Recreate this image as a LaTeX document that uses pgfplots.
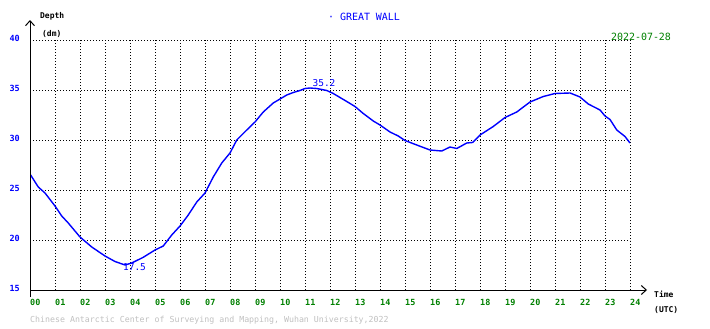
\documentclass[border=0pt]{standalone}
\usepackage{pgfplots}
\pgfplotsset{compat=1.18}
\usepackage{fontspec}
\setmainfont{DejaVu Sans Mono}
\usetikzlibrary{arrows.meta}
\definecolor{wblue}{RGB}{0,0,255}
\definecolor{wgreen}{RGB}{0,128,0}
\definecolor{wgray}{RGB}{192,192,192}
\pgfplotstableread{
h v
0 26.6
0.33 25.3
0.6 24.7
1 23.4
1.27 22.4
1.53 21.7
2 20.3
2.47 19.3
3 18.4
3.4 17.85
3.8 17.5
4.07 17.7
4.53 18.27
5 19.0
5.33 19.4
5.67 20.5
6 21.4
6.33 22.5
6.67 23.8
7 24.7
7.33 26.3
7.67 27.7
8 28.7
8.27 30.0
8.67 31.0
9 31.8
9.33 32.8
9.73 33.7
10 34.1
10.27 34.5
10.53 34.75
10.8 34.95
11 35.15
11.2 35.2
11.47 35.15
11.87 34.95
12.13 34.65
12.67 33.85
13 33.35
13.33 32.65
13.73 31.9
14 31.5
14.4 30.8
14.73 30.4
15 29.95
15.47 29.5
16 29.0
16.47 28.9
16.8 29.3
17.07 29.15
17.47 29.7
17.7 29.75
18 30.5
18.53 31.35
19 32.25
19.47 32.8
20 33.8
20.53 34.35
21 34.65
21.6 34.7
22 34.3
22.33 33.6
22.8 33.0
23 32.4
23.2 32.05
23.47 31.0
23.8 30.35
24 29.7
}\depthdata
\begin{document}
\begin{tikzpicture}[x=1bp,y=1bp]
\begin{axis}[
  scale only axis,
  width=600bp, height=250bp,
  xmin=0, xmax=24, ymin=15, ymax=40,
  xtick={0,1,...,24},
  xticklabels={00,01,02,03,04,05,06,07,08,09,10,11,12,13,14,15,16,17,18,19,20,21,22,23,24},
  ytick={15,20,25,30,35,40},
  axis line style={draw=none},
  major tick length=0pt,
  grid=major,
  major grid style={black, line width=1bp, dash pattern=on 1bp off 2bp},
  xticklabel style={anchor=base west, inner sep=0pt, yshift=-15bp, font=\fontsize{8.5}{9}\selectfont\bfseries, text=wgreen},
  yticklabel style={anchor=east, inner sep=0pt, xshift=-10bp, yshift=2bp, font=\fontsize{8.5}{9}\selectfont\bfseries, text=wblue},
  /pgf/number format/assume math mode=true,
  clip=true,
]
\addplot[wblue, line width=1.4bp] table[x=h, y=v] {\depthdata};
\node[font=\fontsize{9.5}{10}\selectfont, text=wblue, inner sep=0pt] at (axis cs:11.76,35.7) {35.2};
\node[font=\fontsize{9.5}{10}\selectfont, text=wblue, inner sep=0pt] at (axis cs:4.18,17.25) {17.5};
\end{axis}
\draw[black, line width=1bp, -{Straight Barb[length=5bp,width=9bp]}] (0,-7) -- (0,270);
\draw[black, line width=1bp, -{Straight Barb[length=5bp,width=9bp]}] (0,0) -- (617,0);
\node[anchor=west, inner sep=0pt, font=\fontsize{8}{9}\selectfont\bfseries] at (10,274) {Depth};
\node[anchor=west, inner sep=0pt, font=\fontsize{8}{9}\selectfont\bfseries] at (12,256.5) {(dm)};
\node[anchor=west, inner sep=0pt, font=\fontsize{8}{9}\selectfont\bfseries] at (624,-4.5) {Time};
\node[anchor=west, inner sep=0pt, font=\fontsize{8}{9}\selectfont\bfseries] at (624,-20) {(UTC)};
\node[inner sep=0pt, text=wblue, font=\fontsize{10}{11}\selectfont] at (334,273) {· GREAT WALL};
\node[inner sep=0pt, text=wgreen, font=\fontsize{10}{11}\selectfont] at (611,253) {2022-07-28};
\node[anchor=west, inner sep=0pt, text=wgray, font=\fontsize{8.3}{9}\selectfont] at (0,-30) {Chinese Antarctic Center of Surveying and Mapping, Wuhan University,2022};
\pgfresetboundingbox
\path[use as bounding box] (-30,-38) rectangle (680,290);
\end{tikzpicture}
\end{document}
